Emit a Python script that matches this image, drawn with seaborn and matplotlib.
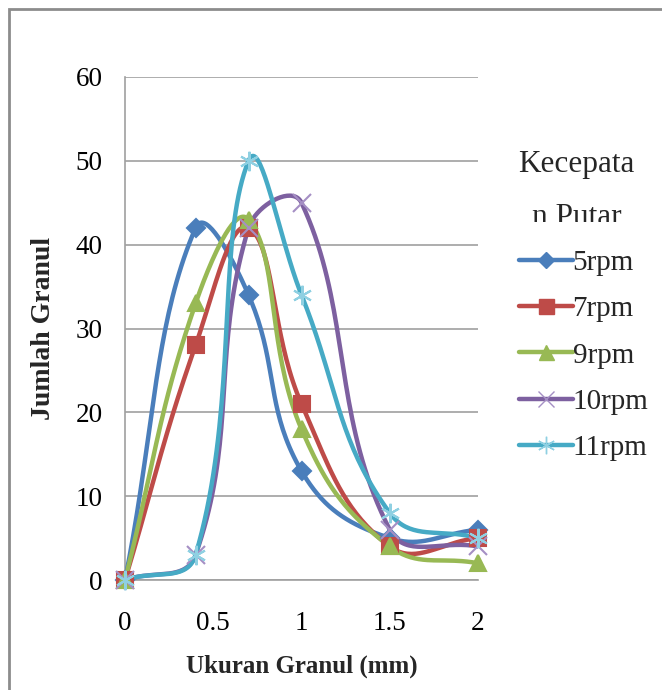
import numpy as np
import pandas as pd
import matplotlib
matplotlib.use("Agg")
import matplotlib.pyplot as plt
import seaborn as sns
from matplotlib.lines import Line2D
from matplotlib.patches import Rectangle

# data
ukuran = [0, 0.4, 0.7, 1, 1.5, 2]
rpm_5 = [0, 42, 34, 13, 5, 6]
rpm_7 = [0, 28, 42, 21, 4, 5]
rpm_9 = [0, 33, 43, 18, 4, 2]
rpm_10 = [0, 3, 42, 45, 6, 4]
rpm_11 = [0, 3, 50, 34, 8, 5]
series_names = ["5rpm", "7rpm", "9rpm", "10rpm", "11rpm"]
series_values = [rpm_5, rpm_7, rpm_9, rpm_10, rpm_11]

colors = ["#4A7EBB", "#BE4B48", "#98B954", "#7D60A0", "#46AAC5"]
marker_colors = ["#4A7EBB", "#BE4B48", "#98B954", "#A58FC4", "#8FD0E2"]
markers = ["D", "s", "^", "x", (6, 2, 0)]
marker_sizes = [9, 12, 12, 13, 14]


def smooth_curve(xs, ys, sx=176.5, sy=8.38, n=40, k=0.42):
    # Excel-like smoothed line: bezier segments with chord-scaled tangents
    p = np.column_stack([np.array(xs, float) * sx, np.array(ys, float) * sy])
    m = len(p)
    out = []
    for i in range(m - 1):
        p0 = p[i - 1] if i > 0 else p[i]
        p1, p2 = p[i], p[i + 1]
        p3 = p[i + 2] if i + 2 < m else p[i + 1]
        d01 = np.linalg.norm(p1 - p0)
        d12 = np.linalg.norm(p2 - p1)
        d23 = np.linalg.norm(p3 - p2)
        f1 = k * d12 / (d01 + d12) if d01 + d12 > 0 else 0
        f2 = k * d12 / (d12 + d23) if d12 + d23 > 0 else 0
        c1 = p1 + (p2 - p0) * f1
        c2 = p2 - (p3 - p1) * f2
        t = np.linspace(0, 1, n)[:, None]
        seg = ((1 - t) ** 3) * p1 + 3 * ((1 - t) ** 2) * t * c1 + 3 * (1 - t) * t ** 2 * c2 + t ** 3 * p2
        out.append(seg if i == 0 else seg[1:])
    out = np.vstack(out)
    return out[:, 0] / sx, out[:, 1] / sy


sns.set_theme(style="white")
plt.rcParams["font.family"] = ["Liberation Serif", "DejaVu Serif"]

fig = plt.figure(figsize=(6.62, 6.9), dpi=100)
ax = fig.add_axes([125 / 662, 1 - 580 / 690, 353 / 662, 503 / 690])

for name, vals, col, mcol, mk, ms in zip(series_names, series_values, colors,
                                         marker_colors, markers, marker_sizes):
    cx, cy = smooth_curve(ukuran, vals)
    curve = pd.DataFrame({"x": cx, "y": cy})
    sns.lineplot(data=curve, x="x", y="y", sort=False, estimator=None,
                 color=col, linewidth=3.2, ax=ax, zorder=3)
    ax.plot(ukuran, vals, linestyle="none", marker=mk, markersize=ms,
            color=mcol, markeredgecolor=mcol, markeredgewidth=1.5, zorder=4,
            clip_on=False)

ax.set_xlim(0, 2)
ax.set_ylim(0, 60)
ax.set_xticks([0, 0.5, 1, 1.5, 2])
ax.set_xticklabels(["0", "0.5", "1", "1.5", "2"])
ax.set_yticks(range(0, 61, 10))
ax.yaxis.grid(True, color="#A0A0A0", linewidth=1.2)
ax.xaxis.grid(False)
for side in ["top", "right"]:
    ax.spines[side].set_visible(False)
ax.spines["left"].set_color("#A0A0A0")
ax.spines["bottom"].set_color("#A0A0A0")
ax.spines["left"].set_linewidth(1.2)
ax.spines["bottom"].set_linewidth(1.2)
ax.tick_params(axis="both", length=0, labelsize=19.5, colors="black")
ax.tick_params(axis="x", pad=22)
ax.tick_params(axis="y", pad=16)
ax.set_xlabel("Ukuran Granul (mm)", fontsize=18, fontweight="bold", labelpad=14)
ax.set_ylabel("Jumlah Granul", fontsize=20, fontweight="bold", labelpad=14)

# outer chart border
fig.patches.append(Rectangle((9 / 662, -0.1), 1.0, 1 - 9 / 690 + 0.1,
                             transform=fig.transFigure, fill=False,
                             edgecolor="#8C8C8C", linewidth=2))

# legend title (wrapped and cut off as in the original)
fig.text(518 / 662, 1 - 172 / 690, "Kecepata", fontsize=22.5, va="baseline")
t2 = fig.text(532 / 662, 1 - 225 / 690, "n Putar", fontsize=22.5, va="baseline")
clip = Rectangle((0, 1 - 222 / 690), 1, 222 / 690, transform=fig.transFigure)
t2.set_clip_path(clip)

handles = [Line2D([], [], color=c, linewidth=3.2, marker=mk, markersize=ms * 0.9,
                  markerfacecolor=mc, markeredgecolor=mc)
           for c, mc, mk, ms in zip(colors, marker_colors, markers, marker_sizes)]
fig.legend(handles, series_names, loc="upper left",
           bbox_to_anchor=(507 / 662, 1 - 238 / 690), frameon=False,
           fontsize=21, handlelength=1.85, handletextpad=0.0, labelspacing=0.68,
           borderaxespad=0)

fig.savefig("out.png", dpi=100)
